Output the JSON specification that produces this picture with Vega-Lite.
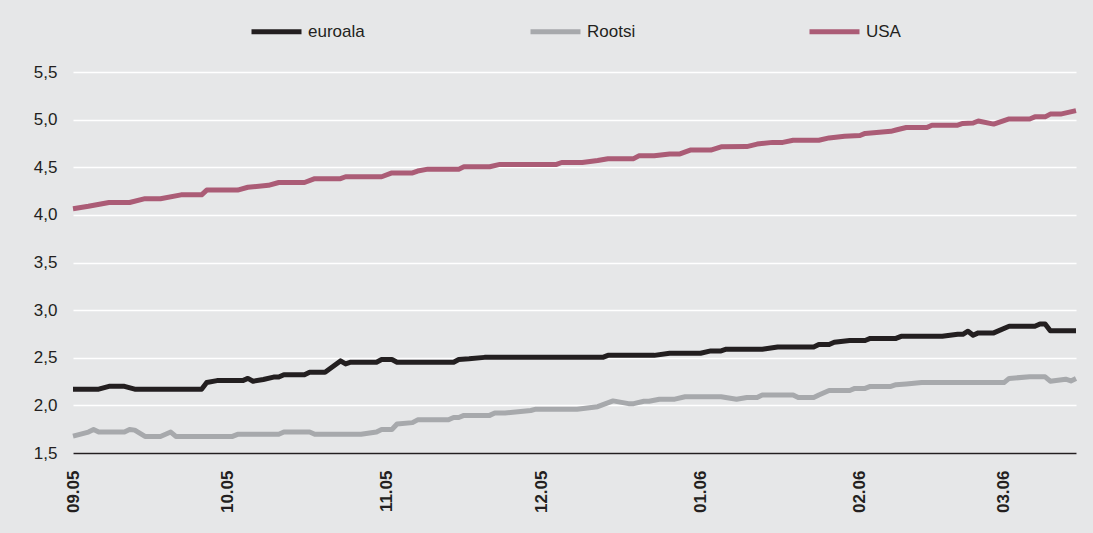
{
  "$schema": "https://vega.github.io/schema/vega-lite/v6.json",
  "autosize": {"type": "none"},
  "width": 1003,
  "height": 381,
  "padding": {"left": 73, "top": 72, "right": 17, "bottom": 80},
  "background": "#e6e7e8",
  "config": {
    "view": {"stroke": null},
    "font": "Liberation Sans"
  },
  "data": {
    "values": [
      {"d": "2005-09-01T00:00:00", "s": "USA", "v": 4.065},
      {"d": "2005-09-04T00:00:00", "s": "USA", "v": 4.09},
      {"d": "2005-09-08T00:00:00", "s": "USA", "v": 4.13},
      {"d": "2005-09-12T00:00:00", "s": "USA", "v": 4.13},
      {"d": "2005-09-15T00:00:00", "s": "USA", "v": 4.17},
      {"d": "2005-09-18T00:00:00", "s": "USA", "v": 4.17},
      {"d": "2005-09-22T00:00:00", "s": "USA", "v": 4.21},
      {"d": "2005-09-26T00:00:00", "s": "USA", "v": 4.21},
      {"d": "2005-09-27T00:00:00", "s": "USA", "v": 4.26},
      {"d": "2005-10-03T00:00:00", "s": "USA", "v": 4.26},
      {"d": "2005-10-05T00:00:00", "s": "USA", "v": 4.29},
      {"d": "2005-10-09T00:00:00", "s": "USA", "v": 4.31},
      {"d": "2005-10-11T00:00:00", "s": "USA", "v": 4.34},
      {"d": "2005-10-16T00:00:00", "s": "USA", "v": 4.34},
      {"d": "2005-10-18T00:00:00", "s": "USA", "v": 4.38},
      {"d": "2005-10-23T00:00:00", "s": "USA", "v": 4.38},
      {"d": "2005-10-24T00:00:00", "s": "USA", "v": 4.40},
      {"d": "2005-10-31T00:00:00", "s": "USA", "v": 4.40},
      {"d": "2005-11-02T00:00:00", "s": "USA", "v": 4.44},
      {"d": "2005-11-06T00:00:00", "s": "USA", "v": 4.44},
      {"d": "2005-11-07T00:00:00", "s": "USA", "v": 4.46},
      {"d": "2005-11-09T00:00:00", "s": "USA", "v": 4.48},
      {"d": "2005-11-15T00:00:00", "s": "USA", "v": 4.48},
      {"d": "2005-11-16T00:00:00", "s": "USA", "v": 4.505},
      {"d": "2005-11-21T00:00:00", "s": "USA", "v": 4.505},
      {"d": "2005-11-23T00:00:00", "s": "USA", "v": 4.53},
      {"d": "2005-12-04T00:00:00", "s": "USA", "v": 4.53},
      {"d": "2005-12-05T00:00:00", "s": "USA", "v": 4.55},
      {"d": "2005-12-09T00:00:00", "s": "USA", "v": 4.55},
      {"d": "2005-12-12T00:00:00", "s": "USA", "v": 4.57},
      {"d": "2005-12-14T00:00:00", "s": "USA", "v": 4.59},
      {"d": "2005-12-19T00:00:00", "s": "USA", "v": 4.59},
      {"d": "2005-12-20T00:00:00", "s": "USA", "v": 4.62},
      {"d": "2005-12-23T00:00:00", "s": "USA", "v": 4.62},
      {"d": "2005-12-26T00:00:00", "s": "USA", "v": 4.64},
      {"d": "2005-12-28T00:00:00", "s": "USA", "v": 4.64},
      {"d": "2005-12-30T00:00:00", "s": "USA", "v": 4.68},
      {"d": "2006-01-03T00:00:00", "s": "USA", "v": 4.68},
      {"d": "2006-01-05T00:00:00", "s": "USA", "v": 4.715},
      {"d": "2006-01-10T00:00:00", "s": "USA", "v": 4.717},
      {"d": "2006-01-12T00:00:00", "s": "USA", "v": 4.743},
      {"d": "2006-01-15T00:00:00", "s": "USA", "v": 4.761},
      {"d": "2006-01-17T00:00:00", "s": "USA", "v": 4.761},
      {"d": "2006-01-19T00:00:00", "s": "USA", "v": 4.783},
      {"d": "2006-01-24T00:00:00", "s": "USA", "v": 4.783},
      {"d": "2006-01-26T00:00:00", "s": "USA", "v": 4.808},
      {"d": "2006-01-29T00:00:00", "s": "USA", "v": 4.826},
      {"d": "2006-02-01T00:00:00", "s": "USA", "v": 4.833},
      {"d": "2006-02-02T00:00:00", "s": "USA", "v": 4.855},
      {"d": "2006-02-07T00:00:00", "s": "USA", "v": 4.877},
      {"d": "2006-02-08T00:00:00", "s": "USA", "v": 4.891},
      {"d": "2006-02-10T00:00:00", "s": "USA", "v": 4.917},
      {"d": "2006-02-14T00:00:00", "s": "USA", "v": 4.917},
      {"d": "2006-02-15T00:00:00", "s": "USA", "v": 4.942},
      {"d": "2006-02-20T00:00:00", "s": "USA", "v": 4.942},
      {"d": "2006-02-21T00:00:00", "s": "USA", "v": 4.96},
      {"d": "2006-02-23T00:00:00", "s": "USA", "v": 4.964},
      {"d": "2006-02-24T00:00:00", "s": "USA", "v": 4.986},
      {"d": "2006-02-27T00:00:00", "s": "USA", "v": 4.953},
      {"d": "2006-03-02T00:00:00", "s": "USA", "v": 5.007},
      {"d": "2006-03-06T00:00:00", "s": "USA", "v": 5.007},
      {"d": "2006-03-07T00:00:00", "s": "USA", "v": 5.029},
      {"d": "2006-03-09T00:00:00", "s": "USA", "v": 5.029},
      {"d": "2006-03-10T00:00:00", "s": "USA", "v": 5.058},
      {"d": "2006-03-12T00:00:00", "s": "USA", "v": 5.058},
      {"d": "2006-03-15T00:00:00", "s": "USA", "v": 5.094},

      {"d": "2005-09-01T00:00:00", "s": "euroala", "v": 2.17},
      {"d": "2005-09-06T00:00:00", "s": "euroala", "v": 2.17},
      {"d": "2005-09-08T00:00:00", "s": "euroala", "v": 2.20},
      {"d": "2005-09-11T00:00:00", "s": "euroala", "v": 2.20},
      {"d": "2005-09-13T00:00:00", "s": "euroala", "v": 2.17},
      {"d": "2005-09-26T00:00:00", "s": "euroala", "v": 2.17},
      {"d": "2005-09-27T00:00:00", "s": "euroala", "v": 2.24},
      {"d": "2005-09-29T00:00:00", "s": "euroala", "v": 2.26},
      {"d": "2005-10-04T00:00:00", "s": "euroala", "v": 2.26},
      {"d": "2005-10-05T00:00:00", "s": "euroala", "v": 2.283},
      {"d": "2005-10-06T00:00:00", "s": "euroala", "v": 2.254},
      {"d": "2005-10-08T00:00:00", "s": "euroala", "v": 2.272},
      {"d": "2005-10-10T00:00:00", "s": "euroala", "v": 2.297},
      {"d": "2005-10-11T00:00:00", "s": "euroala", "v": 2.297},
      {"d": "2005-10-12T00:00:00", "s": "euroala", "v": 2.322},
      {"d": "2005-10-16T00:00:00", "s": "euroala", "v": 2.322},
      {"d": "2005-10-17T00:00:00", "s": "euroala", "v": 2.348},
      {"d": "2005-10-20T00:00:00", "s": "euroala", "v": 2.348},
      {"d": "2005-10-23T00:00:00", "s": "euroala", "v": 2.467},
      {"d": "2005-10-24T00:00:00", "s": "euroala", "v": 2.435},
      {"d": "2005-10-25T00:00:00", "s": "euroala", "v": 2.453},
      {"d": "2005-10-30T00:00:00", "s": "euroala", "v": 2.453},
      {"d": "2005-10-31T00:00:00", "s": "euroala", "v": 2.482},
      {"d": "2005-11-02T00:00:00", "s": "euroala", "v": 2.482},
      {"d": "2005-11-03T00:00:00", "s": "euroala", "v": 2.453},
      {"d": "2005-11-14T00:00:00", "s": "euroala", "v": 2.453},
      {"d": "2005-11-15T00:00:00", "s": "euroala", "v": 2.482},
      {"d": "2005-11-17T00:00:00", "s": "euroala", "v": 2.489},
      {"d": "2005-11-20T00:00:00", "s": "euroala", "v": 2.504},
      {"d": "2005-12-13T00:00:00", "s": "euroala", "v": 2.504},
      {"d": "2005-12-14T00:00:00", "s": "euroala", "v": 2.525},
      {"d": "2005-12-23T00:00:00", "s": "euroala", "v": 2.525},
      {"d": "2005-12-26T00:00:00", "s": "euroala", "v": 2.547},
      {"d": "2006-01-01T00:00:00", "s": "euroala", "v": 2.547},
      {"d": "2006-01-03T00:00:00", "s": "euroala", "v": 2.572},
      {"d": "2006-01-05T00:00:00", "s": "euroala", "v": 2.572},
      {"d": "2006-01-06T00:00:00", "s": "euroala", "v": 2.59},
      {"d": "2006-01-13T00:00:00", "s": "euroala", "v": 2.59},
      {"d": "2006-01-16T00:00:00", "s": "euroala", "v": 2.612},
      {"d": "2006-01-23T00:00:00", "s": "euroala", "v": 2.612},
      {"d": "2006-01-24T00:00:00", "s": "euroala", "v": 2.638},
      {"d": "2006-01-26T00:00:00", "s": "euroala", "v": 2.638},
      {"d": "2006-01-27T00:00:00", "s": "euroala", "v": 2.663},
      {"d": "2006-01-30T00:00:00", "s": "euroala", "v": 2.681},
      {"d": "2006-02-02T00:00:00", "s": "euroala", "v": 2.681},
      {"d": "2006-02-03T00:00:00", "s": "euroala", "v": 2.703},
      {"d": "2006-02-08T00:00:00", "s": "euroala", "v": 2.703},
      {"d": "2006-02-09T00:00:00", "s": "euroala", "v": 2.725},
      {"d": "2006-02-17T00:00:00", "s": "euroala", "v": 2.725},
      {"d": "2006-02-20T00:00:00", "s": "euroala", "v": 2.746},
      {"d": "2006-02-21T00:00:00", "s": "euroala", "v": 2.746},
      {"d": "2006-02-22T00:00:00", "s": "euroala", "v": 2.779},
      {"d": "2006-02-23T00:00:00", "s": "euroala", "v": 2.736},
      {"d": "2006-02-24T00:00:00", "s": "euroala", "v": 2.761},
      {"d": "2006-02-27T00:00:00", "s": "euroala", "v": 2.761},
      {"d": "2006-03-02T00:00:00", "s": "euroala", "v": 2.83},
      {"d": "2006-03-07T00:00:00", "s": "euroala", "v": 2.83},
      {"d": "2006-03-08T00:00:00", "s": "euroala", "v": 2.855},
      {"d": "2006-03-09T00:00:00", "s": "euroala", "v": 2.855},
      {"d": "2006-03-10T00:00:00", "s": "euroala", "v": 2.783},
      {"d": "2006-03-15T00:00:00", "s": "euroala", "v": 2.783},

      {"d": "2005-09-01T00:00:00", "s": "Rootsi", "v": 1.678},
      {"d": "2005-09-04T00:00:00", "s": "Rootsi", "v": 1.72},
      {"d": "2005-09-05T00:00:00", "s": "Rootsi", "v": 1.746},
      {"d": "2005-09-06T00:00:00", "s": "Rootsi", "v": 1.72},
      {"d": "2005-09-11T00:00:00", "s": "Rootsi", "v": 1.72},
      {"d": "2005-09-12T00:00:00", "s": "Rootsi", "v": 1.746},
      {"d": "2005-09-13T00:00:00", "s": "Rootsi", "v": 1.74},
      {"d": "2005-09-15T00:00:00", "s": "Rootsi", "v": 1.674},
      {"d": "2005-09-18T00:00:00", "s": "Rootsi", "v": 1.674},
      {"d": "2005-09-20T00:00:00", "s": "Rootsi", "v": 1.72},
      {"d": "2005-09-21T00:00:00", "s": "Rootsi", "v": 1.674},
      {"d": "2005-10-02T00:00:00", "s": "Rootsi", "v": 1.674},
      {"d": "2005-10-03T00:00:00", "s": "Rootsi", "v": 1.696},
      {"d": "2005-10-11T00:00:00", "s": "Rootsi", "v": 1.696},
      {"d": "2005-10-12T00:00:00", "s": "Rootsi", "v": 1.72},
      {"d": "2005-10-17T00:00:00", "s": "Rootsi", "v": 1.72},
      {"d": "2005-10-18T00:00:00", "s": "Rootsi", "v": 1.696},
      {"d": "2005-10-27T00:00:00", "s": "Rootsi", "v": 1.696},
      {"d": "2005-10-30T00:00:00", "s": "Rootsi", "v": 1.72},
      {"d": "2005-10-31T00:00:00", "s": "Rootsi", "v": 1.746},
      {"d": "2005-11-02T00:00:00", "s": "Rootsi", "v": 1.746},
      {"d": "2005-11-03T00:00:00", "s": "Rootsi", "v": 1.804},
      {"d": "2005-11-06T00:00:00", "s": "Rootsi", "v": 1.819},
      {"d": "2005-11-07T00:00:00", "s": "Rootsi", "v": 1.848},
      {"d": "2005-11-13T00:00:00", "s": "Rootsi", "v": 1.848},
      {"d": "2005-11-14T00:00:00", "s": "Rootsi", "v": 1.873},
      {"d": "2005-11-15T00:00:00", "s": "Rootsi", "v": 1.873},
      {"d": "2005-11-16T00:00:00", "s": "Rootsi", "v": 1.895},
      {"d": "2005-11-21T00:00:00", "s": "Rootsi", "v": 1.895},
      {"d": "2005-11-22T00:00:00", "s": "Rootsi", "v": 1.92},
      {"d": "2005-11-24T00:00:00", "s": "Rootsi", "v": 1.92},
      {"d": "2005-11-29T00:00:00", "s": "Rootsi", "v": 1.946},
      {"d": "2005-11-30T00:00:00", "s": "Rootsi", "v": 1.96},
      {"d": "2005-12-08T00:00:00", "s": "Rootsi", "v": 1.96},
      {"d": "2005-12-12T00:00:00", "s": "Rootsi", "v": 1.986},
      {"d": "2005-12-15T00:00:00", "s": "Rootsi", "v": 2.047},
      {"d": "2005-12-18T00:00:00", "s": "Rootsi", "v": 2.018},
      {"d": "2005-12-19T00:00:00", "s": "Rootsi", "v": 2.018},
      {"d": "2005-12-21T00:00:00", "s": "Rootsi", "v": 2.043},
      {"d": "2005-12-22T00:00:00", "s": "Rootsi", "v": 2.043},
      {"d": "2005-12-24T00:00:00", "s": "Rootsi", "v": 2.065},
      {"d": "2005-12-27T00:00:00", "s": "Rootsi", "v": 2.065},
      {"d": "2005-12-29T00:00:00", "s": "Rootsi", "v": 2.09},
      {"d": "2006-01-05T00:00:00", "s": "Rootsi", "v": 2.09},
      {"d": "2006-01-08T00:00:00", "s": "Rootsi", "v": 2.065},
      {"d": "2006-01-10T00:00:00", "s": "Rootsi", "v": 2.083},
      {"d": "2006-01-12T00:00:00", "s": "Rootsi", "v": 2.083},
      {"d": "2006-01-13T00:00:00", "s": "Rootsi", "v": 2.109},
      {"d": "2006-01-19T00:00:00", "s": "Rootsi", "v": 2.109},
      {"d": "2006-01-20T00:00:00", "s": "Rootsi", "v": 2.083},
      {"d": "2006-01-23T00:00:00", "s": "Rootsi", "v": 2.083},
      {"d": "2006-01-24T00:00:00", "s": "Rootsi", "v": 2.109},
      {"d": "2006-01-26T00:00:00", "s": "Rootsi", "v": 2.156},
      {"d": "2006-01-30T00:00:00", "s": "Rootsi", "v": 2.156},
      {"d": "2006-01-31T00:00:00", "s": "Rootsi", "v": 2.178},
      {"d": "2006-02-02T00:00:00", "s": "Rootsi", "v": 2.178},
      {"d": "2006-02-03T00:00:00", "s": "Rootsi", "v": 2.199},
      {"d": "2006-02-07T00:00:00", "s": "Rootsi", "v": 2.199},
      {"d": "2006-02-08T00:00:00", "s": "Rootsi", "v": 2.217},
      {"d": "2006-02-10T00:00:00", "s": "Rootsi", "v": 2.225},
      {"d": "2006-02-13T00:00:00", "s": "Rootsi", "v": 2.239},
      {"d": "2006-03-01T00:00:00", "s": "Rootsi", "v": 2.239},
      {"d": "2006-03-02T00:00:00", "s": "Rootsi", "v": 2.283},
      {"d": "2006-03-06T00:00:00", "s": "Rootsi", "v": 2.30},
      {"d": "2006-03-09T00:00:00", "s": "Rootsi", "v": 2.30},
      {"d": "2006-03-10T00:00:00", "s": "Rootsi", "v": 2.254},
      {"d": "2006-03-13T00:00:00", "s": "Rootsi", "v": 2.275},
      {"d": "2006-03-14T00:00:00", "s": "Rootsi", "v": 2.257},
      {"d": "2006-03-15T00:00:00", "s": "Rootsi", "v": 2.283}
    ]
  },
  "mark": {"type": "line", "strokeWidth": 5, "strokeJoin": "round", "strokeCap": "butt"},
  "encoding": {
    "x": {
      "field": "d",
      "type": "temporal",
      "title": null,
      "scale": {
        "domain": [
          {"year": 2005, "month": 9, "date": 1},
          {"year": 2006, "month": 3, "date": 15}
        ],
        "nice": false
      },
      "axis": {
        "format": "%m.%y",
        "tickCount": {"interval": "month", "step": 1},
        "labelAngle": -90,
        "labelAlign": "right",
        "labelBaseline": "middle",
        "labelFontSize": 17,
        "labelFontWeight": "bold",
        "labelColor": "#231f20",
        "labelPadding": 17,
        "ticks": false,
        "grid": false,
        "domainColor": "#231f20",
        "domainWidth": 1.5,
        "labelFlush": false,
        "labelOverlap": false
      }
    },
    "y": {
      "field": "v",
      "type": "quantitative",
      "title": null,
      "scale": {"domain": [1.5, 5.5], "nice": false, "zero": false},
      "axis": {
        "values": [1.5, 2, 2.5, 3, 3.5, 4, 4.5, 5, 5.5],
        "labelExpr": "replace(format(datum.value, '.1f'), '.', ',')",
        "labelFontSize": 17,
        "labelColor": "#231f20",
        "labelPadding": 16,
        "ticks": false,
        "domain": false,
        "grid": true,
        "gridColor": "#ffffff",
        "gridWidth": 1.5
      }
    },
    "color": {
      "field": "s",
      "type": "nominal",
      "scale": {
        "domain": ["euroala", "Rootsi", "USA"],
        "range": ["#231f20", "#a7a9ac", "#ab5c76"]
      },
      "legend": {
        "title": null,
        "orient": "none",
        "legendX": 176,
        "legendY": -68,
        "direction": "horizontal",
        "columns": 3,
        "gridAlign": "all",
        "columnPadding": 155,
        "symbolType": "stroke",
        "symbolSize": 2500,
        "symbolStrokeWidth": 5,
        "labelFontSize": 17,
        "labelColor": "#231f20",
        "labelOffset": 4
      }
    }
  }
}
